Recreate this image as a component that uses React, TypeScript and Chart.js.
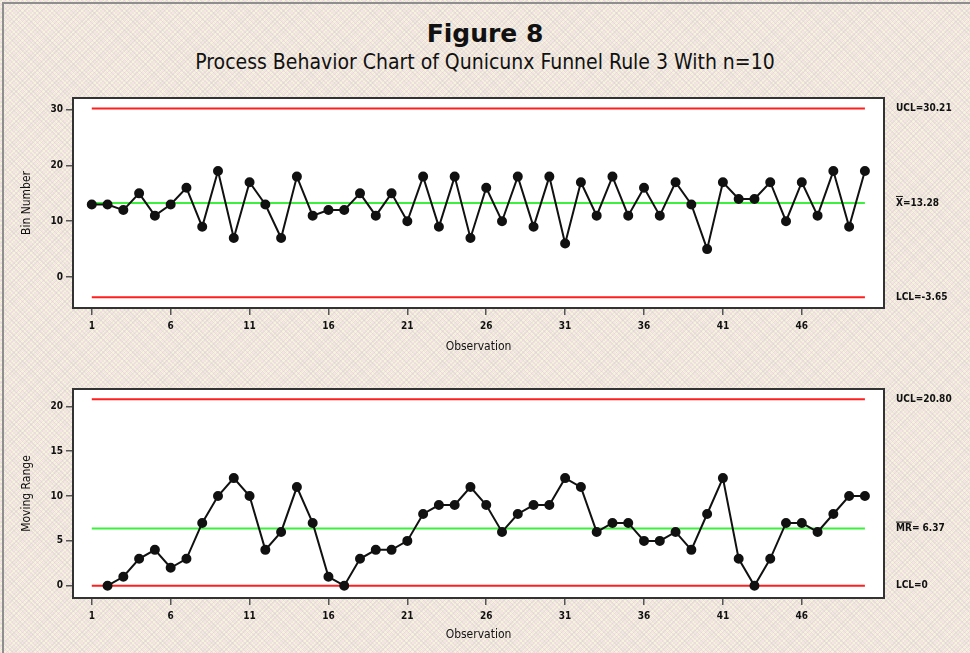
import React, { useEffect, useRef } from "react";
import { Chart, registerables } from "chart.js";

Chart.register(...registerables);

const FONT = "'DejaVu Sans Condensed', 'DejaVu Sans', sans-serif";
Chart.defaults.font.family = FONT;

// Observation numbers along the x axis
const observations = Array.from({ length: 50 }, (_, i) => i + 1);
const observationTicks = [1, 6, 11, 16, 21, 26, 31, 36, 41, 46];

// Individual values (bin number hit on each drop)
const binNumber = [
  13, 13, 12, 15, 11, 13, 16, 9, 19, 7,
  17, 13, 7, 18, 11, 12, 12, 15, 11, 15,
  10, 18, 9, 18, 7, 16, 10, 18, 9, 18,
  6, 17, 11, 18, 11, 16, 11, 17, 13, 5,
  17, 14, 14, 17, 10, 17, 11, 19, 9, 19,
];

// Moving ranges between successive observations (none for the first)
const movingRange: (number | null)[] = [
  null, 0, 1, 3, 4, 2, 3, 7, 10, 12,
  10, 4, 6, 11, 7, 1, 0, 3, 4, 4,
  5, 8, 9, 9, 11, 9, 6, 8, 9, 9,
  12, 11, 6, 7, 7, 5, 5, 6, 4, 8,
  12, 3, 0, 3, 7, 7, 6, 8, 10, 10,
];

// Control limits
const binUCL = 30.21;
const binMean = 13.28;
const binLCL = -3.65;
const rangeUCL = 20.8;
const rangeMean = 6.37;
const rangeLCL = 0;

const binTicks = [0, 10, 20, 30];
const rangeTicks = [0, 5, 10, 15, 20];

type LimitLabel = { value: number; text: string; bar?: string };

const framePlugin = {
  id: "frame",
  beforeDraw(chart: any) {
    const { ctx, chartArea: a } = chart;
    ctx.save();
    ctx.fillStyle = "#ffffff";
    ctx.fillRect(a.left, a.top, a.right - a.left, a.bottom - a.top);
    ctx.restore();
  },
  afterDraw(chart: any, _args: any, opts: any) {
    const { ctx, chartArea: a } = chart;
    ctx.save();
    ctx.strokeStyle = "#333";
    ctx.lineWidth = 2;
    ctx.strokeRect(a.left, a.top, a.right - a.left, a.bottom - a.top);

    const yScale = chart.scales.y;
    ctx.font = `bold 10px ${FONT}`;
    ctx.fillStyle = "#111";
    ctx.textAlign = "left";
    ctx.textBaseline = "middle";
    const x0 = a.right + 12;
    (opts.labels as LimitLabel[]).forEach((l) => {
      const y = yScale.getPixelForValue(l.value);
      ctx.fillText(l.text, x0, y);
      if (l.bar) {
        const w = ctx.measureText(l.bar).width;
        ctx.strokeStyle = "#111";
        ctx.lineWidth = 1;
        ctx.beginPath();
        ctx.moveTo(x0, y - 6.5);
        ctx.lineTo(x0 + w, y - 6.5);
        ctx.stroke();
      }
    });
    ctx.restore();
  },
};

type PanelProps = {
  top: number;
  values: (number | null)[];
  ucl: number;
  center: number;
  lcl: number;
  yMin: number;
  yMax: number;
  yTicks: number[];
  yTitle: string;
  labels: LimitLabel[];
  padTop: number;
  xTitlePad: number;
};

function ControlPanel(p: PanelProps) {
  const ref = useRef<HTMLCanvasElement>(null);

  useEffect(() => {
    if (!ref.current) return;
    const points = observations
      .map((o, i) => ({ x: o, y: p.values[i] }))
      .filter((pt) => pt.y !== null);
    const first = observations[0];
    const last = observations[observations.length - 1];
    const limitLine = (y: number, color: string) => ({
      data: [
        { x: first, y },
        { x: last, y },
      ],
      borderColor: color,
      borderWidth: 2,
      pointRadius: 0,
      fill: false,
      order: 2,
    });

    const axisGrid = {
      display: true,
      drawOnChartArea: false,
      drawTicks: true,
      tickLength: 7,
      color: "#555",
      lineWidth: 1.5,
    };

    const chart = new Chart(ref.current, {
      type: "line",
      data: {
        datasets: [
          {
            data: points as any,
            borderColor: "#111",
            borderWidth: 2,
            pointRadius: 4,
            pointBackgroundColor: "#111",
            pointBorderColor: "#111",
            fill: false,
            order: 0,
          },
          limitLine(p.ucl, "#ff1f1f"),
          limitLine(p.center, "#3df03d"),
          limitLine(p.lcl, "#ff1f1f"),
        ] as any,
      },
      options: {
        responsive: false,
        animation: false,
        events: [],
        layout: { padding: { left: 0, right: 86, top: p.padTop, bottom: 0 } },
        plugins: {
          legend: { display: false },
          tooltip: { enabled: false },
          title: { display: false },
          frame: { labels: p.labels },
        } as any,
        scales: {
          x: {
            type: "linear",
            min: -0.19,
            max: 51.21,
            afterBuildTicks: (s: any) => {
              s.ticks = observationTicks.map((v) => ({ value: v }));
            },
            afterFit: (s: any) => {
              s.height = 57;
            },
            grid: axisGrid,
            border: { display: false },
            ticks: {
              autoSkip: false,
              maxRotation: 0,
              padding: 5,
              color: "#111",
              font: { size: 10, weight: "bold" },
            },
            title: {
              display: true,
              text: "Observation",
              color: "#111",
              font: { size: 12 },
              padding: { top: 0, bottom: p.xTitlePad },
            },
          },
          y: {
            type: "linear",
            min: p.yMin,
            max: p.yMax,
            afterBuildTicks: (s: any) => {
              s.ticks = p.yTicks.map((v) => ({ value: v }));
            },
            afterFit: (s: any) => {
              s.width = 73;
            },
            grid: axisGrid,
            border: { display: false },
            ticks: {
              padding: 3,
              color: "#111",
              font: { size: 10, weight: "bold" },
            },
            title: {
              display: true,
              text: p.yTitle,
              color: "#111",
              font: { size: 12 },
              padding: { top: 20, bottom: 0 },
            },
          },
        } as any,
      },
      plugins: [framePlugin],
    });
    return () => chart.destroy();
  }, []);

  return (
    <canvas
      ref={ref}
      width={970}
      height={280}
      style={{ position: "absolute", left: 0, top: p.top, width: 970, height: 280 }}
    />
  );
}

export default function App() {
  return (
    <div
      style={{
        position: "absolute",
        left: 0,
        top: 0,
        width: 970,
        height: 653,
        overflow: "hidden",
        backgroundColor: "#f4f0ea",
        backgroundImage: [
          "repeating-linear-gradient(45deg, rgba(200,200,200,0.28) 0px, rgba(200,200,200,0.28) 1px, transparent 1px, transparent 3px)",
          "repeating-linear-gradient(-45deg, rgba(200,200,200,0.28) 0px, rgba(200,200,200,0.28) 1px, transparent 1px, transparent 3px)",
          "conic-gradient(#f8e4e6 25%, #f7f4dc 0 50%, #f8e4e6 0 75%, #f7f4dc 0)",
        ].join(", "),
        backgroundSize: "auto, auto, 6px 6px",
        fontFamily: FONT,
      }}
    >
      <div
        style={{
          position: "absolute",
          left: 2,
          top: 2,
          right: 0,
          bottom: 0,
          borderTop: "2px solid #8e8e8e",
          borderLeft: "2px solid #8e8e8e",
        }}
      />
      <div
        style={{
          position: "absolute",
          left: 0,
          top: 19,
          width: 970,
          textAlign: "center",
          fontSize: 25,
          fontWeight: "bold",
          lineHeight: "30px",
          color: "#111",
          fontFamily: "'DejaVu Sans', sans-serif",
        }}
      >
        Figure 8
      </div>
      <div
        style={{
          position: "absolute",
          left: 0,
          top: 49,
          width: 970,
          textAlign: "center",
          fontSize: 21,
          lineHeight: "26px",
          color: "#111",
        }}
      >
        Process Behavior Chart of Qunicunx Funnel Rule 3 With n=10
      </div>
      <ControlPanel
        top={85}
        values={binNumber}
        ucl={binUCL}
        center={binMean}
        lcl={binLCL}
        yMin={-5.56}
        yMax={32.1}
        yTicks={binTicks}
        yTitle="Bin Number"
        padTop={13}
        xTitlePad={11}
        labels={[
          { value: binUCL, text: `UCL=${binUCL.toFixed(2)}` },
          { value: binMean, text: `X=${binMean.toFixed(2)}`, bar: "X" },
          { value: binLCL, text: `LCL=${binLCL.toFixed(2)}` },
        ]}
      />
      <ControlPanel
        top={375}
        values={movingRange}
        ucl={rangeUCL}
        center={rangeMean}
        lcl={rangeLCL}
        yMin={-1.37}
        yMax={21.94}
        yTicks={rangeTicks}
        yTitle="Moving Range"
        padTop={14}
        xTitlePad={13}
        labels={[
          { value: rangeUCL, text: `UCL=${rangeUCL.toFixed(2)}` },
          { value: rangeMean, text: `MR= ${rangeMean.toFixed(2)}`, bar: "MR" },
          { value: rangeLCL, text: `LCL=${rangeLCL}` },
        ]}
      />
    </div>
  );
}
